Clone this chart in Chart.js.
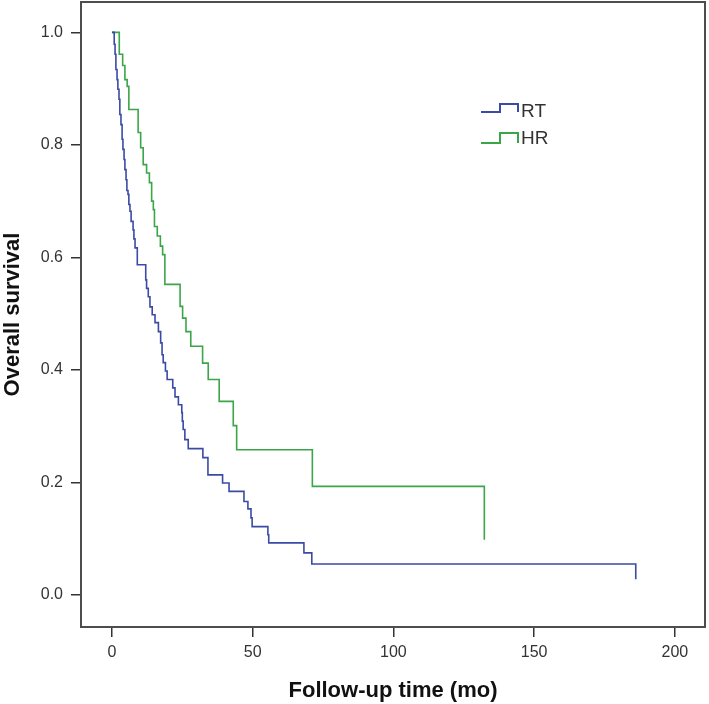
<!DOCTYPE html>
<html>
<head>
<meta charset="utf-8">
<script src="https://cdn.jsdelivr.net/npm/chart.js@4.4.1/dist/chart.umd.min.js"></script>
<style>
  html, body { margin: 0; padding: 0; background: #fff; }
</style>
</head>
<body>
<canvas id="km-chart" width="709" height="704"></canvas>
<script>
// Kaplan-Meier steps: event time (months) and survival after it
const rtTime = [0, 0.8, 1.1, 1.4, 1.8, 2.1, 2.5, 2.8, 3.2, 3.6, 3.9, 4.3, 4.6, 5.0, 5.3, 5.7, 6.0, 6.4, 6.8, 7.5,
  7.8, 8.2, 9.0, 12.0, 12.3, 12.9, 13.5, 14.3, 15.3, 16.5, 17.3, 17.8, 18.2, 19.0, 19.6, 21.6, 22.4, 23.6, 24.8, 25.0,
  25.3, 25.9, 27.1, 32.3, 34.1, 39.3, 41.6, 46.9, 48.3, 49.4, 49.8, 55.4, 55.7, 68.2, 71.0, 186.1];
const rtSurv = [1.0, 0.979, 0.961, 0.934, 0.916, 0.899, 0.881, 0.854, 0.836, 0.810, 0.792, 0.774, 0.756, 0.738, 0.719, 0.712, 0.694, 0.682, 0.664, 0.649,
  0.633, 0.617, 0.587, 0.560, 0.545, 0.530, 0.512, 0.498, 0.484, 0.468, 0.448, 0.427, 0.413, 0.398, 0.383, 0.368, 0.352, 0.338, 0.324, 0.309,
  0.294, 0.276, 0.260, 0.244, 0.2135, 0.199, 0.184, 0.166, 0.153, 0.137, 0.1215, 0.107, 0.0925, 0.0747, 0.055, 0.028];

const hrTime = [0, 2.6, 3.8, 4.6, 5.4, 6.0, 9.3, 10.2, 11.1, 12.3, 13.3, 14.1, 14.7, 15.1, 16.1, 17.2, 18.0, 18.8, 24.2, 25.1,
  26.3, 28.0, 32.2, 34.2, 38.1, 43.1, 44.3, 71.2, 132.3];
const hrSurv = [1.0, 0.961, 0.941, 0.916, 0.904, 0.863, 0.822, 0.795, 0.765, 0.750, 0.733, 0.700, 0.685, 0.655, 0.638, 0.620, 0.605, 0.552, 0.513, 0.492,
  0.468, 0.442, 0.412, 0.383, 0.344, 0.301, 0.258, 0.193, 0.098];

const groupNames = ['RT', 'HR'];
const xTicks = [0, 50, 100, 150, 200];
const yTicks = [0.0, 0.2, 0.4, 0.6, 0.8, 1.0];

const toPoints = (times, surv) => times.map((t, i) => ({ x: t, y: surv[i] }));

// box around the plot area
const frame = {
  id: 'frame',
  afterDraw(chart) {
    const { ctx, chartArea: a } = chart;
    ctx.save();
    ctx.strokeStyle = '#4d4d4d';
    ctx.lineWidth = 2;
    ctx.strokeRect(a.left, a.top, a.right - a.left, a.bottom - a.top);
    ctx.restore();
  }
};

// SPSS-like legend with a little step glyph
const stepLegend = {
  id: 'stepLegend',
  afterDatasetsDraw(chart) {
    const ctx = chart.ctx;
    chart.data.datasets.forEach((ds, i) => {
      const low = 112 + i * 31;
      const high = low - 8 - i * 2;
      ctx.save();
      ctx.strokeStyle = ds.borderColor;
      ctx.lineWidth = 2;
      ctx.beginPath();
      ctx.moveTo(481, low);
      ctx.lineTo(500, low);
      ctx.lineTo(500, high);
      ctx.lineTo(518, high);
      ctx.lineTo(518, low);
      ctx.stroke();
      ctx.fillStyle = '#333';
      ctx.font = '19px "Liberation Sans", Arial, sans-serif';
      ctx.textBaseline = 'alphabetic';
      ctx.fillText(ds.label, 521, 117 + i * 27);
      ctx.restore();
    });
  }
};

const tickFont = { family: '"Liberation Sans", Arial, sans-serif', size: 16 };
const titleFont = { family: '"Liberation Sans", Arial, sans-serif', size: 22, weight: 'bold' };

new Chart(document.getElementById('km-chart'), {
  type: 'line',
  data: {
    datasets: [
      {
        label: groupNames[0],
        data: toPoints(rtTime, rtSurv),
        borderColor: '#3b4ba5',
        borderWidth: 1.6,
        stepped: true,
        pointRadius: 0,
        fill: false
      },
      {
        label: groupNames[1],
        data: toPoints(hrTime, hrSurv),
        borderColor: '#3aa648',
        borderWidth: 1.6,
        stepped: true,
        pointRadius: 0,
        fill: false
      }
    ]
  },
  options: {
    responsive: false,
    animation: false,
    layout: { padding: { top: 2, right: 4, left: 0, bottom: 0 } },
    plugins: {
      legend: { display: false },
      tooltip: { enabled: false }
    },
    scales: {
      x: {
        type: 'linear',
        min: -11,
        max: 210.7,
        afterFit: (scale) => {
          scale.height = 77;
          scale.paddingLeft = 0;
          scale.paddingRight = 0;
        },
        afterBuildTicks: (scale) => { scale.ticks = xTicks.map(v => ({ value: v })); },
        border: { display: false },
        grid: { drawOnChartArea: false, tickLength: 10, color: '#333', lineWidth: 1.5 },
        ticks: { font: tickFont, color: '#333', padding: 6, maxRotation: 0 },
        title: { display: true, text: 'Follow-up time (mo)', font: titleFont, color: '#111', padding: 0 }
      },
      y: {
        type: 'linear',
        min: -0.057,
        max: 1.054,
        afterFit: (scale) => {
          scale.width = 81;
          scale.paddingTop = 0;
          scale.paddingBottom = 0;
        },
        afterBuildTicks: (scale) => { scale.ticks = yTicks.map(v => ({ value: v })); },
        border: { display: false },
        grid: { drawOnChartArea: false, tickLength: 10, color: '#333', lineWidth: 1.5 },
        ticks: { font: tickFont, color: '#333', padding: 8, callback: (v) => v.toFixed(1) },
        title: { display: true, text: 'Overall survival', font: titleFont, color: '#111', padding: 0 }
      }
    }
  },
  plugins: [frame, stepLegend]
});
</script>
</body>
</html>
